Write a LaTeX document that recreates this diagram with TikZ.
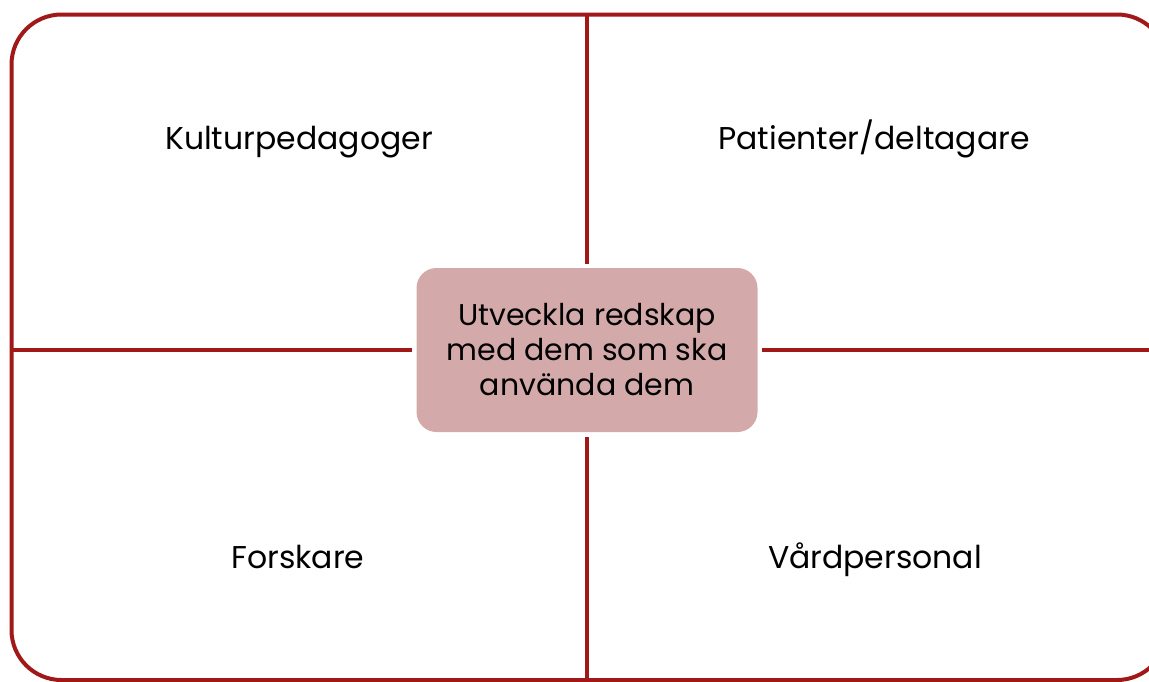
\documentclass[tikz,border=0pt]{standalone}
\usepackage{fontspec}
\setmainfont{Poppins}
\usepackage{tikz}
\usetikzlibrary{positioning}

\definecolor{framered}{RGB}{160,24,24}
\definecolor{hubfill}{RGB}{212,169,170}

\tikzset{
    frameline/.style={draw=framered, line width=4pt},
    label/.style={font=\fontsize{31.5}{36}\selectfont, text=black, anchor=base},
    hub/.style={fill=hubfill, rounded corners=20pt, minimum width=341pt, minimum height=164pt,
                outer sep=4.5pt, align=center, font=\fontsize{30}{35}\selectfont}
}

\begin{document}
\begin{tikzpicture}[x=1pt, y=-1pt]
                \useasboundingbox (0, 0) rectangle (1149, 681);
                \clip (0, 0) rectangle (1149, 681);

                % frame of the four fields
                \draw[frameline, rounded corners=50pt] (11.5, 14.5) rectangle (1167, 680);
                \coordinate (top) at (587, 14.5);
                \coordinate (bottom) at (587, 680);
                \coordinate (left) at (11.5, 350);
                \coordinate (right) at (1167, 350);

                \node[hub] (centre) at (587, 350) {Utveckla redskap\\med dem som ska\\använda dem};

                \draw[frameline] (top) -- (centre);
                \draw[frameline] (bottom) -- (centre);
                \draw[frameline] (left) -- (centre);
                \draw[frameline] (right) -- (centre);

                \node[label] (kultur) at (299, 149) {Kulturpedagoger};
                \node[label] (patient) at (874, 149) {Patienter/deltagare};
                \node[label] (forsk) at (298, 568) {Forskare};
                \node[label] (vard) at (875, 568) {Vårdpersonal};
            \end{tikzpicture}
\end{document}
